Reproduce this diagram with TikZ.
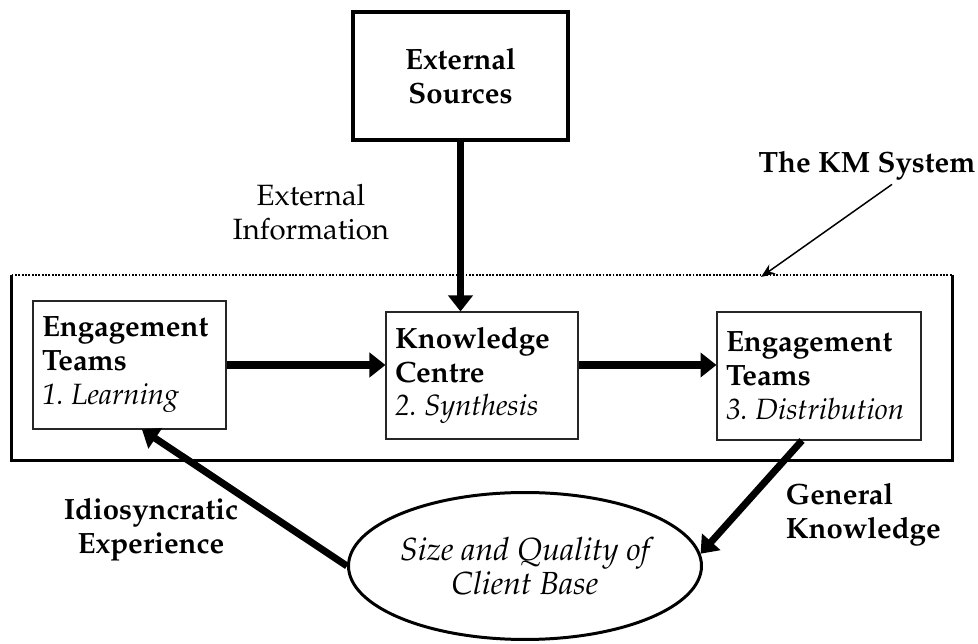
\documentclass[tikz,border=0pt]{standalone}
\usepackage[T1]{fontenc}
\usepackage{mathpazo}
\usetikzlibrary{arrows.meta,shapes.geometric}

\newcommand{\kmfont}{\fontsize{16.7}{19.3}\selectfont\frenchspacing}

\begin{document}
\begin{tikzpicture}[x=0.02cm, y=-0.02cm, font=\kmfont,
  stagebox/.style={draw=black!85, line width=0.6pt, inner xsep=0.18cm, align=flush left, minimum height=2.56cm},
  boldtext/.style={font=\kmfont\bfseries, inner sep=2pt},
  bigarrow/.style={line width=4pt, -{Triangle[length=0.32cm, width=0.48cm]}},
  thinarrow/.style={line width=0.85pt, -{Stealth[length=0.28cm, width=0.22cm]}}]
\useasboundingbox (0,0) rectangle (978,644);

\node (ext) at (460.5,76)[draw, line width=2.27pt, minimum width=4.3cm, minimum height=2.56cm, boldtext, align=center] {External\\Sources};
\node (extinfo) at (311,212)[align=center, inner sep=2pt] {External\\Information};
\node (kmsys) at (867,173)[boldtext, anchor=base] {The KM System};

% the KM system frame
\node (system) at (482,367.5)[minimum width=18.8cm, minimum height=3.7cm] {};
\draw[line width=1.5pt] (system.north west) -- (system.south west) -- (system.south east) -- (system.north east);
\draw[line width=1.3pt, dash pattern=on 1pt off 0.9pt] (system.north west) -- (system.north east);

\node (eng1) at (129.5,365)[stagebox, text width=3.5cm] {\textbf{Engagement}\\\textbf{Teams}\\\textit{1. Learning}};
\node (kc) at (482,375.5)[stagebox, text width=3.48cm, minimum height=2.54cm] {\textbf{Knowledge}\\\textbf{Centre}\\\textit{2. Synthesis}};
\node (eng3) at (819,376)[stagebox, text width=3.72cm] {\textbf{Engagement}\\\textbf{Teams}\\\textit{3. Distribution}};

\node (client) at (525,566)[ellipse, draw, line width=1.7pt, minimum width=6.28cm, minimum height=2.94cm, inner sep=0pt, align=center, font=\fontsize{18.2}{19.3}\selectfont\itshape] {Size and Quality of\\Client Base};

\node (idio) at (151,530)[boldtext, align=center] {Idiosyncratic\\Experience};
\node (general) at (782,515)[boldtext, anchor=west, align=left] {General\\Knowledge};

\draw[bigarrow] (ext.south) -- (ext.south |- kc.north);
\draw[bigarrow] (eng1.east) -- (eng1.east -| kc.west);
\draw[bigarrow] (kc.east |- eng1.east) -- (eng1.east -| eng3.west);
\draw[bigarrow] (client.west) -- ([xshift=0.25cm]eng1.south);
\draw[bigarrow] ([xshift=-0.34cm]eng3.south) -- (client.4);

\coordinate (kmtip) at (761,277);
\draw[thinarrow] ([xshift=0.5cm]kmsys.south) -- (kmtip);
\end{tikzpicture}
\end{document}
